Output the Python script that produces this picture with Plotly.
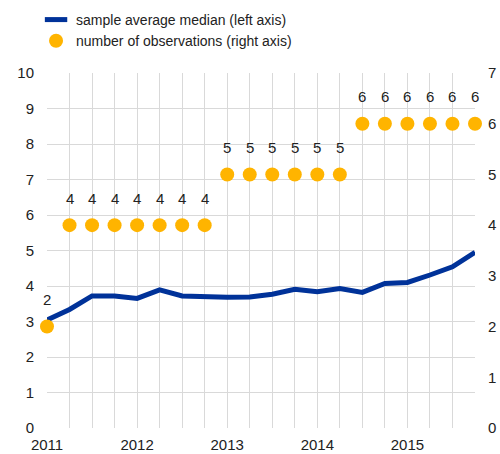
import plotly.graph_objects as go

quarters = ["2011Q1","2011Q2","2011Q3","2011Q4","2012Q1","2012Q2","2012Q3","2012Q4",
            "2013Q1","2013Q2","2013Q3","2013Q4","2014Q1","2014Q2","2014Q3","2014Q4",
            "2015Q1","2015Q2","2015Q3","2015Q4"]
median = [3.04, 3.34, 3.72, 3.72, 3.65, 3.89, 3.72, 3.69,
          3.68, 3.69, 3.77, 3.91, 3.84, 3.93, 3.82, 4.07,
          4.10, 4.31, 4.54, 4.95]
observations = [2, 4, 4, 4, 4, 4, 4, 4,
                5, 5, 5, 5, 5, 5, 6, 6,
                6, 6, 6, 6]
year_ticks = [2011, 2012, 2013, 2014, 2015]

x = [int(q[:4]) + (int(q[-1]) - 1) * 0.25 for q in quarters]

BLUE = "#003299"
ORANGE = "#FFB400"
FONT = "Liberation Sans, Arial, sans-serif"
TXT = "#222222"

fig = go.Figure()
fig.add_trace(go.Scatter(x=x, y=median, mode="lines", line=dict(color=BLUE, width=5),
                         showlegend=False, yaxis="y"))
fig.add_trace(go.Scatter(x=[None], y=[None], mode="markers", name="sample average median (left axis)",
                         marker=dict(symbol="line-ew-open", size=16, color=BLUE,
                                     line=dict(color=BLUE, width=5))))
fig.add_trace(go.Scatter(x=x, y=observations, mode="markers", name="number of observations (right axis)",
                         marker=dict(color=ORANGE, size=14), yaxis="y2", cliponaxis=False))

for xi, oi in zip(x, observations):
    fig.add_annotation(x=xi, y=oi, xref="x", yref="y2", text=str(oi), showarrow=False,
                       yshift=27, font=dict(size=15, color=TXT, family=FONT))

fig.update_layout(
    width=500, height=454,
    margin=dict(l=47, r=25, t=73, b=26, autoexpand=False),
    plot_bgcolor="white", paper_bgcolor="white",
    font=dict(family=FONT, size=15, color=TXT),
    xaxis=dict(range=[2011, 2015.75], tickvals=year_ticks, ticktext=[str(v) for v in year_ticks],
               showgrid=True, gridcolor="#d9d9d9", gridwidth=1, automargin=False,
               minor=dict(dtick=0.25, tick0=2011, showgrid=True, gridcolor="#d9d9d9", gridwidth=1),
               zeroline=False, showline=False, ticks="", ticklen=0, ticklabelstandoff=6),
    yaxis=dict(range=[0, 10], dtick=1, showgrid=True, gridcolor="#d9d9d9", zeroline=False,
               showline=False, ticks="", ticklabelstandoff=12, automargin=False),
    yaxis2=dict(range=[0, 7], dtick=1, overlaying="y", side="right", showgrid=False,
                zeroline=False, showline=False, ticks="", ticklabelstandoff=12, automargin=False),
    legend=dict(x=-0.0256, y=1.1944, xanchor="left", yanchor="top",
                bgcolor="rgba(0,0,0,0)",
                font=dict(size=14, family=FONT, color=TXT), itemwidth=30, tracegroupgap=0),
)

fig.write_html("out.html", config={"displayModeBar": False},
               post_script="document.body.style.margin='0';document.body.style.overflow='hidden';")
